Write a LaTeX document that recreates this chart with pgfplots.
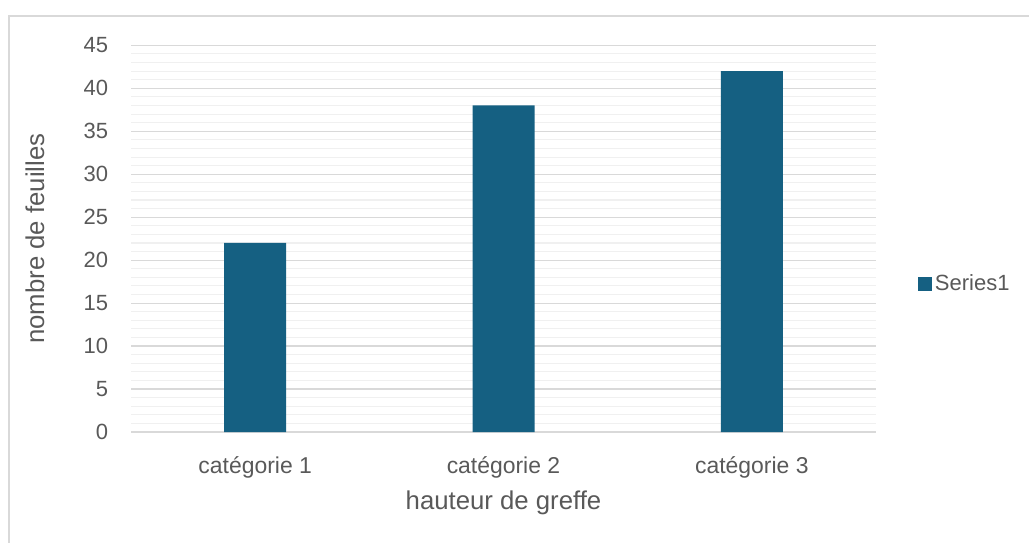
\documentclass[border=0pt]{standalone}
\usepackage{pgfplots}
\pgfplotsset{compat=1.18}
\usepackage{fontspec}
\setmainfont{Liberation Sans}
\definecolor{barblue}{HTML}{156082}
\definecolor{txtgray}{HTML}{595959}
\definecolor{majgrid}{HTML}{D9D9D9}
\definecolor{mingrid}{HTML}{F0F0F0}
\definecolor{framegray}{HTML}{D9D9D9}
\begin{document}
\begin{tikzpicture}
\useasboundingbox (0pt,0pt) rectangle (771.75pt,-407.25pt);
% chart frame (runs off to the right and bottom)
\draw[framegray, line width=1.2pt] (6.75pt,-407.25pt) -- (6.75pt,-12pt) -- (771.75pt,-12pt);
\begin{axis}[
  at={(98.25pt,-324pt)}, anchor=south west,
  scale only axis, width=558.75pt, height=290pt,
  xmin=-0.5, xmax=2.5, ymin=0, ymax=45,
  ybar, bar width=46.5pt,
  xtick={0,1,2}, xticklabels={catégorie 1, catégorie 2, catégorie 3},
  ytick={0,5,...,45}, minor y tick num=4,
  ymajorgrids, yminorgrids,
  major grid style={majgrid, line width=0.9pt},
  minor grid style={mingrid, line width=0.8pt},
  axis x line*=bottom, axis y line*=left,
  x axis line style={majgrid, line width=0.9pt, -},
  y axis line style={draw=none},
  major tick length=0pt, minor tick length=0pt,
  tick style={draw=none},
  /pgf/number format/assume math mode=true,
  yticklabel style={font=\fontsize{16.5}{19}\selectfont, text=txtgray,
    anchor=east, inner sep=0pt, xshift=-17pt},
  xticklabel style={font=\fontsize{17.2}{20}\selectfont, text=txtgray,
    anchor=north, inner sep=0pt, yshift=-18pt},
  xlabel={hauteur de greffe}, ylabel={nombre de feuilles},
  label style={font=\fontsize{19.3}{22}\selectfont, text=txtgray},
  xlabel style={at={(rel axis cs:0.5,-0.1836)}, anchor=center},
  ylabel style={at={(rel axis cs:-0.1289,0.5)}, anchor=center},
  legend style={at={(rel axis cs:1.0564,0.3827)}, anchor=west, draw=none, fill=none,
    inner sep=0pt, font=\fontsize{16.5}{19}\selectfont, text=txtgray,
    /tikz/every even column/.append style={column sep=3pt}},
  legend image code/.code={\fill[barblue] (0pt,-5.25pt) rectangle (10.5pt,5.25pt);},
  clip=false,
]
\addplot[fill=barblue, draw=none] coordinates {(0,22) (1,38) (2,42)};
\addlegendentry{Series1}
\end{axis}
\end{tikzpicture}
\end{document}
